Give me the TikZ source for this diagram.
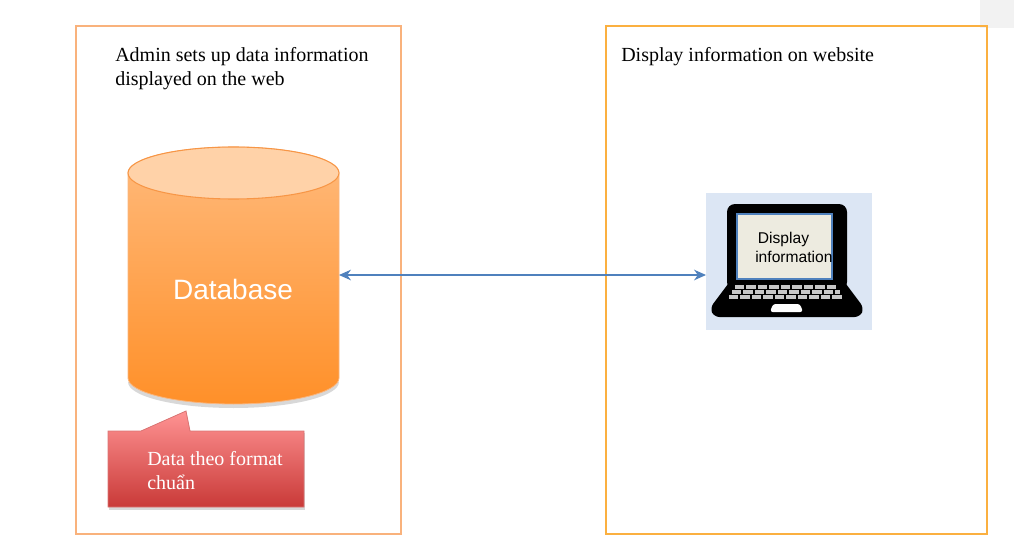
\documentclass[tikz,border=0pt]{standalone}
\usepackage{xcolor}
\usepackage{fontspec}
\setmainfont{Liberation Serif}
\setsansfont{Liberation Sans}
\usetikzlibrary{positioning,arrows.meta}
\definecolor{panelL}{HTML}{F9B27C}
\definecolor{panelR}{HTML}{FBB040}
\definecolor{dbedge}{HTML}{F79646}
\definecolor{dbtop}{HTML}{FFBA7C}
\definecolor{dbbot}{HTML}{FF9029}
\definecolor{dblid}{HTML}{FFD2A8}
\definecolor{calltop}{HTML}{FF9393}
\definecolor{callbot}{HTML}{C93A38}
\definecolor{linkblue}{HTML}{4F81BD}
\definecolor{lapbg}{HTML}{DCE6F4}
\definecolor{screen}{HTML}{EDEBE0}

\begin{document}
\begin{tikzpicture}[x=0.75pt, y=-0.75pt,
  panel/.style={draw=#1, line width=0.9pt, minimum height=381pt, inner sep=0pt, outer sep=0pt},
  note/.style={anchor=north west, align=left, inner sep=0pt, font=\fontsize{15}{18}\selectfont},
  shadowed/.style={fill=black!30, opacity=0.5, draw=none},
  keyrow/.style={black!22, line width=2.6pt, dash pattern=on 7pt off 1.6pt},
  arr/.style={{Stealth[length=9pt,width=8pt]}-{Stealth[length=9pt,width=8pt]}, linkblue, line width=1pt}]
\useasboundingbox (0,0) rectangle (1024,556);
\fill[black!5] (980,0) rectangle (1014,28);
% panels
\node[panel=panelL, minimum width=243.75pt, anchor=north west] (admin) at (76,26) {};
\node[panel=panelR, minimum width=285.75pt, anchor=north west] (site) at (606,26) {};
\node[note] (admintxt) at (115,47) {Admin sets up data information\\displayed on the web};
\node[note] (sitetxt) at (621,47) {Display information on website};
% database
\fill[shadowed] (128,382) arc[start angle=180, end angle=0, x radius=105.5, y radius=26] -- cycle;
\path[draw=dbedge!70, line width=0.6pt, top color=dbtop, bottom color=dbbot]
  (128,173) -- (128,378) arc[start angle=180, end angle=0, x radius=105.5, y radius=26] -- (339,173)
  arc[start angle=0, end angle=180, x radius=105.5, y radius=-26] -- cycle;
\draw[draw=dbedge, line width=0.8pt, fill=dblid] (233.5,173) ellipse[x radius=105.5, y radius=26];
\node[minimum width=158.25pt, minimum height=192pt, inner sep=0pt, outer sep=0pt] (db) at (233.5,275) {};
\node[text=white, font=\sffamily\fontsize{21}{24}\selectfont] (dblabel) at (233,289) {Database};
% callout
\fill[shadowed] (109,433) rectangle (305,510);
\path[draw=callbot!70, line width=0.6pt, top color=calltop, bottom color=callbot]
  (108,431) -- (141,431) -- (186,411) -- (190,431) -- (304,431) -- (304,507) -- (108,507) -- cycle;
\node[note, text=white] (calltxt) at (147,451) {Data theo format\\chuẩn};
% laptop
\node[fill=lapbg, minimum width=124.5pt, minimum height=102.75pt, inner sep=0pt, outer sep=0pt, anchor=north west] (lap) at (706,193) {};
\fill[black, rounded corners=6pt] (727,204) rectangle (847,290);
\fill[black, rounded corners=4pt] (731,280) -- (843,280) -- (864,308) -- (860,317) -- (714,317) -- (710,308) -- cycle;
\draw[draw=linkblue, line width=0.8pt, fill=screen] (737,214) rectangle (832,279);
\draw[keyrow] (735,287) -- (837,287);
\draw[keyrow] (732,292) -- (840,292);
\draw[keyrow] (729,297) -- (843,297);
\fill[white, rounded corners=2pt] (773,304) -- (800,304) -- (803,312) -- (770,312) -- cycle;
\node[anchor=north west, align=left, inner sep=0pt, font=\sffamily\fontsize{11.7}{14}\selectfont] (laptxt) at (755,232) {\hspace{2pt}Display\\information};
% link
\draw[arr] (db.east) -- (db.east -| lap.west);
\end{tikzpicture}
\end{document}
